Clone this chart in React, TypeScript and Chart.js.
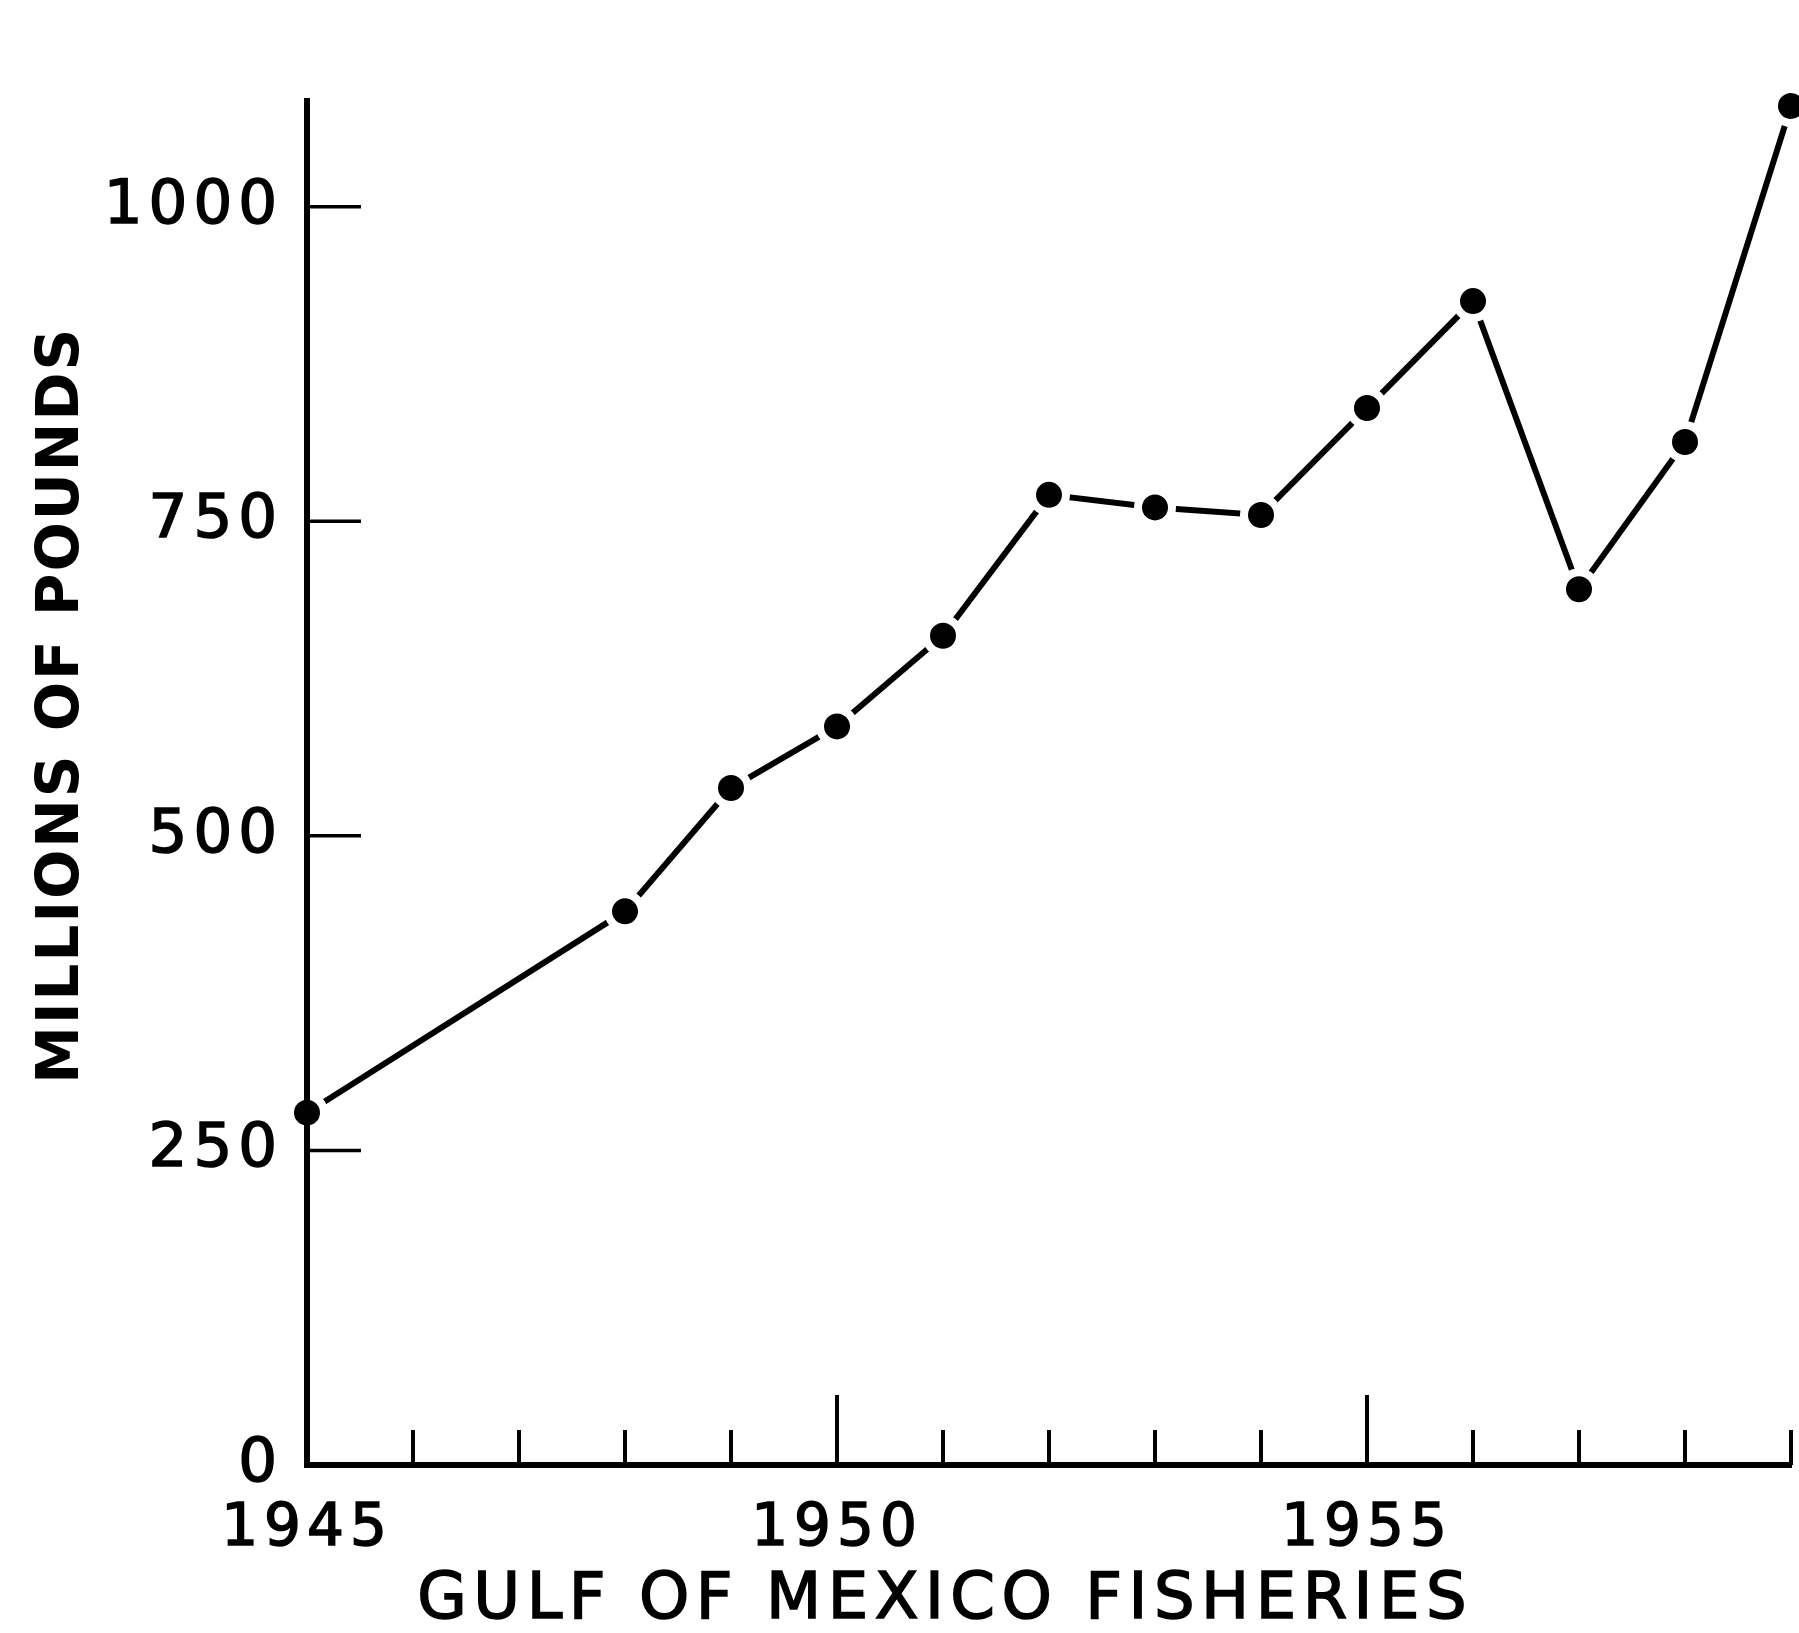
import React, { useEffect, useRef } from "react";
import { Chart, registerables } from "chart.js";

Chart.register(...registerables);

// ---- data ----
const years = [1945, 1948, 1949, 1950, 1951, 1952, 1953, 1954, 1955, 1956, 1957, 1958, 1959];
const catchMillionsLb = [280, 440, 538, 587, 659, 771, 761, 755, 840, 925, 696, 813, 1080];
const yTickValues = [0, 250, 500, 750, 1000];
const xLabeledYears = [1945, 1950, 1955];
const majorTickYears = [1950, 1955];
const xTitle = "GULF OF MEXICO FISHERIES";
const yTitle = "MILLIONS OF POUNDS";

const W = 1799;
const H = 1633;
const FONT = "'DejaVu Sans', sans-serif";

const draftingPlugin = {
  id: "drafting",
  beforeLayout(chart: any) {
    chart.ctx.letterSpacing = "6px";
  },
  beforeDraw(chart: any) {
    chart.ctx.letterSpacing = "6px";
  },
  afterDatasetsDraw(chart: any) {
    const { ctx, chartArea, scales } = chart;
    const xs = scales.x;
    const ys = scales.y;
    ctx.save();
    ctx.strokeStyle = "#000";
    ctx.lineCap = "butt";
    // redraw y axis line over the white halo of the first point
    ctx.lineWidth = 6;
    ctx.beginPath();
    ctx.moveTo(chartArea.left, chartArea.top);
    ctx.lineTo(chartArea.left, chartArea.bottom);
    ctx.stroke();
    // inside tick marks on x axis
    ctx.lineWidth = 4;
    xs.ticks.forEach((t: any) => {
      if (t.value === xs.min) return;
      const px = xs.getPixelForValue(t.value);
      const len = majorTickYears.includes(t.value) ? 70 : 35;
      ctx.beginPath();
      ctx.moveTo(px, chartArea.bottom);
      ctx.lineTo(px, chartArea.bottom - len);
      ctx.stroke();
    });
    // inside tick marks on y axis
    ctx.lineWidth = 3.5;
    ys.ticks.forEach((t: any) => {
      if (t.value === 0) return;
      const py = ys.getPixelForValue(t.value);
      ctx.beginPath();
      ctx.moveTo(chartArea.left, py);
      ctx.lineTo(chartArea.left + 54, py);
      ctx.stroke();
    });
    ctx.restore();
  },
  afterDraw(chart: any) {
    const { ctx, chartArea } = chart;
    ctx.save();
    ctx.fillStyle = "#000";
    ctx.strokeStyle = "#000";
    ctx.textAlign = "center";
    ctx.textBaseline = "middle";
    // x title
    ctx.letterSpacing = "6.5px";
    ctx.font = `64px ${FONT}`;
    ctx.lineWidth = 1.6;
    const xCenter = chartArea.left + (chartArea.right - chartArea.left) * 0.43;
    ctx.fillText(xTitle, xCenter, chartArea.bottom + 136);
    ctx.strokeText(xTitle, xCenter, chartArea.bottom + 136);
    // y title
    ctx.letterSpacing = "2px";
    ctx.font = `bold 58px ${FONT}`;
    const yCenter = chartArea.top + (chartArea.bottom - chartArea.top) * 0.443;
    ctx.translate(63, yCenter);
    ctx.rotate(-Math.PI / 2);
    ctx.fillText(yTitle, 0, 0);
    ctx.restore();
  },
};

export default function App() {
  const ref = useRef<HTMLCanvasElement | null>(null);

  useEffect(() => {
    document.body.style.margin = "0";
    document.body.style.overflow = "hidden";
    const canvas = ref.current;
    if (!canvas) return;
    const chart = new Chart(canvas, {
      type: "line",
      data: {
        datasets: [
          {
            data: years.map((x, i) => ({ x, y: catchMillionsLb[i] })),
            borderColor: "#000",
            borderWidth: 6,
            tension: 0,
            fill: false,
            pointRadius: 17,
            pointHoverRadius: 17,
            pointBackgroundColor: "#000",
            pointBorderColor: "#fff",
            pointBorderWidth: 8,
            pointHoverBorderWidth: 8,
            clip: false as any,
          },
        ],
      },
      options: {
        animation: false,
        responsive: false,
        maintainAspectRatio: false,
        devicePixelRatio: 1,
        events: [],
        layout: { autoPadding: false, padding: { top: 101, right: 8, left: 0, bottom: 0 } },
        plugins: {
          legend: { display: false },
          tooltip: { enabled: false },
          title: { display: false },
        },
        scales: {
          x: {
            type: "linear",
            min: 1945,
            max: 1959,
            grid: { display: false, drawTicks: false },
            border: { display: true, color: "#000", width: 6 },
            ticks: {
              stepSize: 1,
              autoSkip: false,
              maxRotation: 0,
              color: "#000",
              padding: 30,
              textStrokeColor: "#000",
              textStrokeWidth: 1.6,
              font: { family: FONT, size: 58 },
              callback: (v: any) => (xLabeledYears.includes(Number(v)) ? String(v) : ""),
            },
            afterFit: (s: any) => {
              s.height = 168;
              s.paddingLeft = 0;
              s.paddingRight = 0;
            },
          },
          y: {
            type: "linear",
            min: 0,
            max: 1084,
            grid: { display: false, drawTicks: false },
            border: { display: true, color: "#000", width: 6 },
            afterBuildTicks: (s: any) => {
              s.ticks = yTickValues.map((value) => ({ value }));
            },
            ticks: {
              color: "#000",
              padding: 24,
              textStrokeColor: "#000",
              textStrokeWidth: 1.6,
              font: { family: FONT, size: 61 },
              callback: (v: any) => String(v),
            },
            afterFit: (s: any) => {
              s.width = 307;
              s.paddingTop = 0;
              s.paddingBottom = 0;
            },
          },
        },
      },
      plugins: [draftingPlugin],
    });
    return () => chart.destroy();
  }, []);

  return (
    <canvas
      ref={ref}
      width={W}
      height={H}
      style={{ position: "absolute", left: 0, top: 0, width: W, height: H, display: "block", background: "#fff" }}
    />
  );
}
